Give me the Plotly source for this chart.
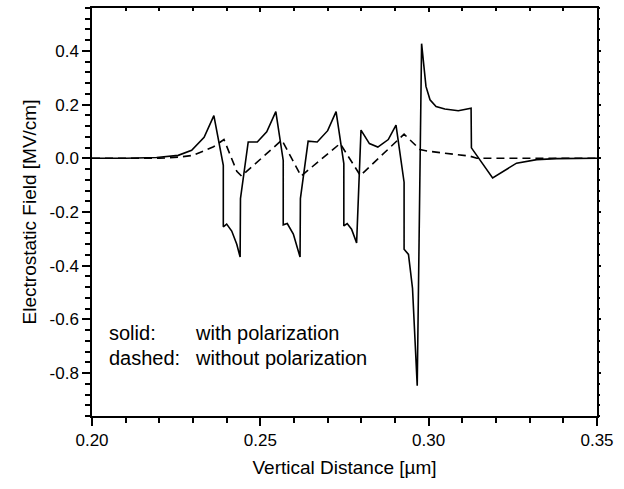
import plotly.graph_objects as go

# Solid curve: with polarization
x_pol = [0.200, 0.210, 0.2192, 0.2256, 0.2296, 0.2333, 0.2362, 0.2390, 0.2390, 0.2400,
         0.2415, 0.2430, 0.2440, 0.2441, 0.2464, 0.2491, 0.2519, 0.2546, 0.2568, 0.2568,
         0.2580, 0.2598, 0.2618, 0.2619, 0.2642, 0.2669, 0.2700, 0.2725, 0.2748, 0.2748,
         0.2758, 0.2771, 0.2786, 0.2799, 0.2824, 0.2849, 0.2880, 0.2903, 0.2927, 0.2927,
         0.2940, 0.2952, 0.2966, 0.2979, 0.2992, 0.3004, 0.3022, 0.3048, 0.3088, 0.3108,
         0.3126, 0.3127, 0.3190, 0.3261, 0.3321, 0.3380, 0.350]
e_pol = [0.0, 0.0, 0.003, 0.011, 0.030, 0.078, 0.159, -0.026, -0.255, -0.245,
         -0.271, -0.320, -0.368, -0.150, 0.061, 0.061, 0.099, 0.174, -0.008, -0.248,
         -0.243, -0.282, -0.368, -0.150, 0.064, 0.061, 0.103, 0.174, -0.020, -0.252,
         -0.243, -0.264, -0.315, 0.105, 0.055, 0.042, 0.070, 0.124, -0.089, -0.339,
         -0.358, -0.484, -0.847, 0.427, 0.268, 0.218, 0.193, 0.184, 0.177, 0.183,
         0.187, 0.039, -0.073, -0.018, -0.005, -0.001, 0.0]

# Dashed curve: without polarization
x_nopol = [0.200, 0.220, 0.2262, 0.2300, 0.2361, 0.2392, 0.2430, 0.2444, 0.2564, 0.2621,
           0.2737, 0.2797, 0.2927, 0.2974, 0.2995, 0.3123, 0.3143, 0.350]
e_nopol = [0.0, 0.0, 0.005, 0.011, 0.043, 0.070, -0.048, -0.066, 0.068, -0.066,
           0.055, -0.064, 0.090, 0.033, 0.027, 0.008, 0.0, 0.0]

x_tickvals = [0.20, 0.25, 0.30, 0.35]
x_ticktext = ["0.20", "0.25", "0.30", "0.35"]
y_tickvals = [0.4, 0.2, 0.0, -0.2, -0.4, -0.6, -0.8]
y_ticktext = ["0.4", "0.2", "0.0", "-0.2", "-0.4", "-0.6", "-0.8"]

X_RANGE = [0.20, 0.35]
Y_RANGE = [-0.96, 0.56]

FONT = "Liberation Sans, Arial, sans-serif"

fig = go.Figure()
fig.add_trace(go.Scatter(x=x_pol, y=e_pol, mode="lines",
                         line=dict(color="black", width=1.6), showlegend=False))
fig.add_trace(go.Scatter(x=x_nopol, y=e_nopol, mode="lines",
                         line=dict(color="black", width=1.6, dash="8px,5px"), showlegend=False))
# invisible helper trace so the mirrored tick axes are drawn
fig.add_trace(go.Scatter(x=[X_RANGE[0]], y=[0.0], xaxis="x2", yaxis="y2", mode="markers",
                         marker=dict(opacity=0), hoverinfo="skip", showlegend=False))

axis_common = dict(showgrid=False, zeroline=False, showline=True, linecolor="black",
                   linewidth=1.5, ticks="outside", ticklen=8, tickwidth=1.5,
                   tickcolor="black", mirror=True, automargin=False,
                   tickfont=dict(family=FONT, size=17, color="black"))

fig.update_layout(
    xaxis=dict(range=X_RANGE, tickmode="array", tickvals=x_tickvals, ticktext=x_ticktext,
               minor=dict(dtick=0.01, tick0=0.2, ticks="outside", ticklen=5,
                          tickwidth=1.5, tickcolor="black"),
               title=dict(text="Vertical Distance [µm]", standoff=12,
                          font=dict(family=FONT, size=19, color="black")),
               **axis_common),
    yaxis=dict(range=Y_RANGE, tickmode="array", tickvals=y_tickvals, ticktext=y_ticktext,
               minor=dict(dtick=0.04, tick0=0.0, ticks="outside", ticklen=5,
                          tickwidth=1.5, tickcolor="black"),
               title=dict(text="Electrostatic Field [MV/cm]", standoff=8,
                          font=dict(family=FONT, size=19, color="black")),
               **axis_common),
    xaxis2=dict(range=X_RANGE, overlaying="x", side="top", showline=False, showgrid=False,
                zeroline=False, showticklabels=False, tickmode="array", tickvals=x_tickvals,
                ticks="inside", ticklen=4, tickwidth=1.5, tickcolor="black", automargin=False,
                minor=dict(dtick=0.01, tick0=0.2, ticks="inside", ticklen=3,
                           tickwidth=1.5, tickcolor="black")),
    yaxis2=dict(range=Y_RANGE, overlaying="y", side="right", showline=False, showgrid=False,
                zeroline=False, showticklabels=False, tickmode="array", tickvals=y_tickvals,
                ticks="outside", ticklen=3, tickwidth=1.5, tickcolor="black", automargin=False,
                minor=dict(dtick=0.04, tick0=0.0, ticks="outside", ticklen=2,
                           tickwidth=1.5, tickcolor="black")),
)

ann_font = dict(family=FONT, size=20, color="black")
fig.add_annotation(x=0.2045, y=-0.651, text="solid:", showarrow=False,
                   xanchor="left", yanchor="middle", font=ann_font)
fig.add_annotation(x=0.2300, y=-0.651, text="with polarization", showarrow=False,
                   xanchor="left", yanchor="middle", font=ann_font)
fig.add_annotation(x=0.2045, y=-0.744, text="dashed:", showarrow=False,
                   xanchor="left", yanchor="middle", font=ann_font)
fig.add_annotation(x=0.2300, y=-0.744, text="without polarization", showarrow=False,
                   xanchor="left", yanchor="middle", font=ann_font)

fig.update_layout(width=624, height=489, plot_bgcolor="white", paper_bgcolor="white",
                  margin=dict(l=92, r=27, t=8, b=73),
                  font=dict(family=FONT, color="black"))

fig.write_html("out.html")
